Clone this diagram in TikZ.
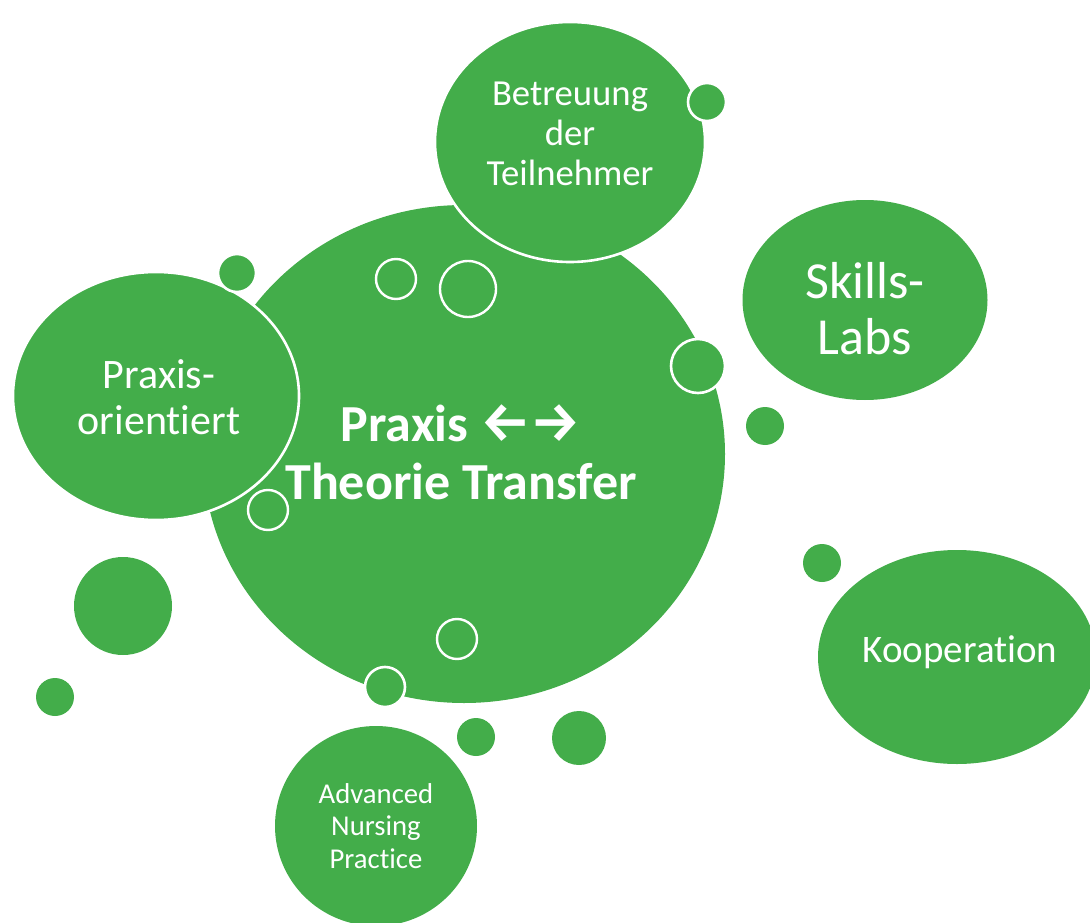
\documentclass[tikz,border=0pt]{standalone}
\usepackage{fontspec}
\setmainfont{Carlito}[Ligatures={NoCommon}]
\newfontfamily\arrowfont{Fira Sans Light}
\usetikzlibrary{shapes.geometric}
\definecolor{bubblegreen}{RGB}{67,173,74}
\tikzset{
  bubble/.style={ellipse, fill=bubblegreen, inner sep=0pt, outer sep=0pt, text=white, align=center},
  ringed/.style={draw=white, line width=2.6pt},
  dot/.style={circle, fill=bubblegreen, inner sep=0pt, outer sep=0pt},
  ring/.style={circle, draw=white, line width=2.4pt, inner sep=0pt, outer sep=0pt},
  label/.style={text=white, align=center, inner sep=0pt},
}
\begin{document}
\begin{tikzpicture}[x=1pt,y=-1pt]
\useasboundingbox (0,0) rectangle (1090,923);
% main
\node[bubble, minimum width=522pt, minimum height=498pt] (main) at (464,454) {};
\node[label, font=\fontsize{52}{58}\selectfont\bfseries] (maintext) at (461,452)
  {Praxis {\arrowfont\fontsize{56}{58}\selectfont ←→}\\Theorie Transfer};
% Betreuung
\node[bubble, ringed, minimum width=270pt, minimum height=240pt] (betr) at (570,142) {};
\node[label, font=\fontsize{36.7}{40}\selectfont] (betrtext) at (570,134) {Betreuung\\der\\Teilnehmer};
\node[dot, ringed, minimum size=38pt] (d1) at (707,102) {};
% Praxis-orientiert
\node[bubble, ringed, minimum width=286pt, minimum height=248pt] (prax) at (156,396) {};
\node[label, font=\fontsize{42}{46}\selectfont] (praxtext) at (159,397) {Praxis-\\orientiert};
\node[dot, ringed, minimum size=38pt] (d2) at (237,273) {};
% Skills-Labs
\node[bubble, minimum width=245pt, minimum height=200pt] (skills) at (865,300) {};
\node[label, font=\fontsize{52}{56}\selectfont] (skillstext) at (865,309) {Skills-\\Labs};
\node[dot, minimum size=38pt] (d3) at (765,426) {};
% Kooperation
\node[bubble, minimum width=278pt, minimum height=214pt] (koop) at (957,657) {};
\node[label, font=\fontsize{39}{44}\selectfont] (kooptext) at (960,652) {Kooperation};
\node[dot, minimum size=38pt] (d4) at (822,563) {};
% Advanced Nursing Practice
\node[bubble, minimum width=202pt, minimum height=200pt] (anp) at (376,826) {};
\node[label, font=\fontsize{28.7}{32.5}\selectfont] (anptext) at (376,826) {Advanced\\Nursing\\Practice};
% rings on main
\node[ring, minimum size=40pt] (r1) at (396,279) {};
\node[ring, minimum size=56pt] (r2) at (468,289) {};
\node[ring, minimum size=40pt] (r3) at (268,510) {};
\node[ring, minimum size=40pt] (r4) at (457,639) {};
\node[dot, ringed, minimum size=54pt] (d5) at (698,366) {};
\node[dot, ringed, minimum size=40pt] (d6) at (385,687) {};
% loose dots
\node[dot, minimum size=98pt] (d7) at (123,606) {};
\node[dot, minimum size=38pt] (d8) at (55,697) {};
\node[dot, minimum size=38pt] (d9) at (476,737) {};
\node[dot, minimum size=54pt] (d10) at (579,738) {};
\end{tikzpicture}
\end{document}
